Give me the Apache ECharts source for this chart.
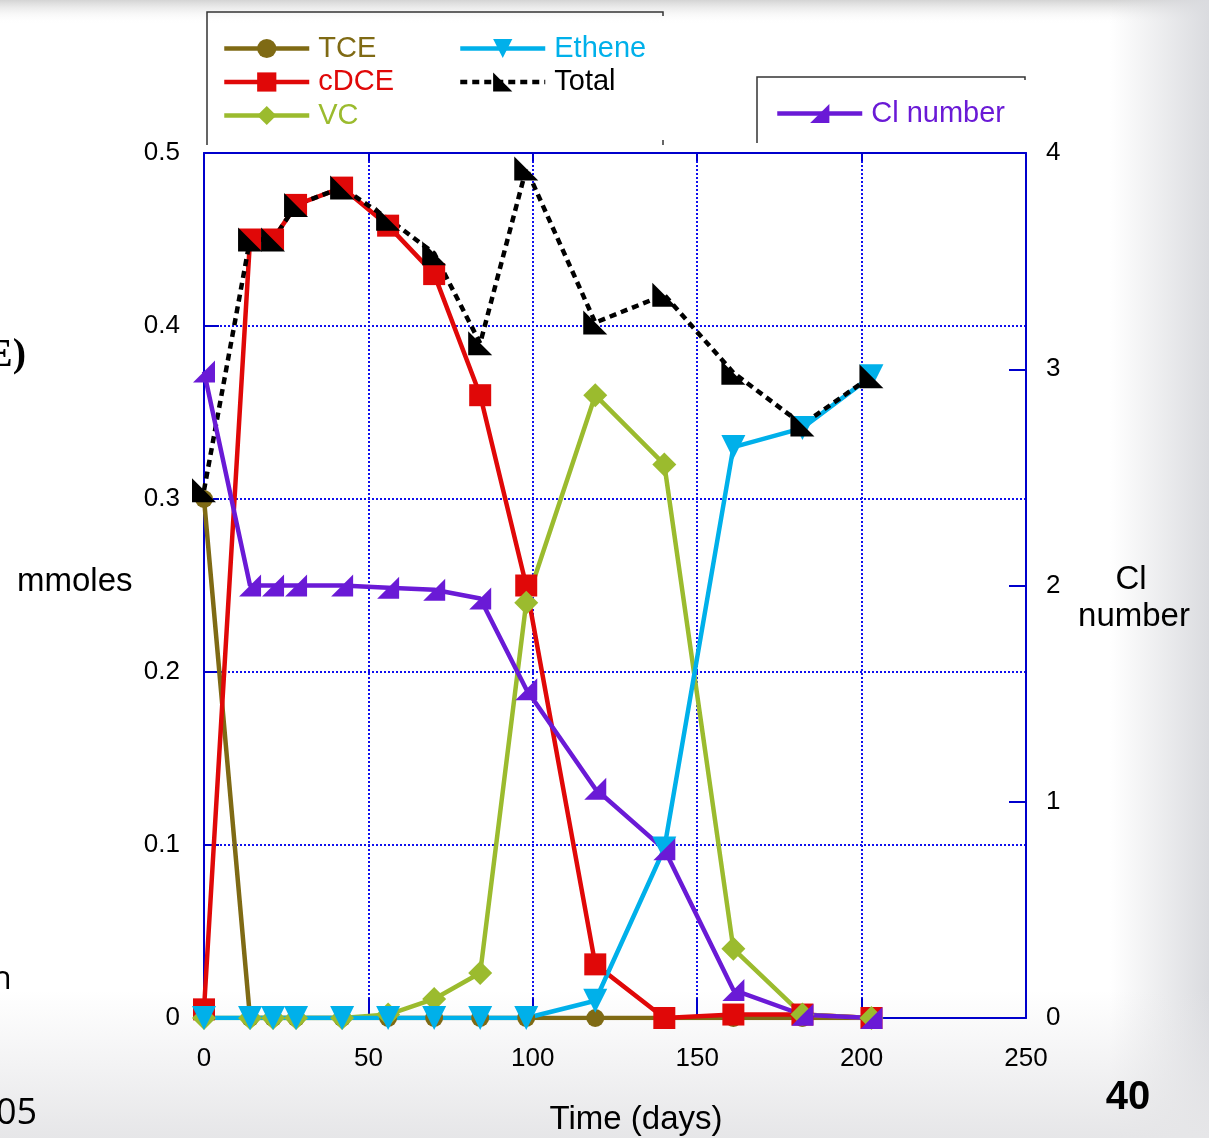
<!DOCTYPE html>
<html><head><meta charset="utf-8">
<script src="https://cdn.jsdelivr.net/npm/echarts@6/dist/echarts.min.js"></script>
<style>html,body{margin:0;padding:0;background:#fff}#c{width:1209px;height:1138px}</style>
</head><body><div id="c"></div>
<script>
const days = [0,14,21,28,42,56,70,84,98,119,140,161,182,203];
const tce = [0.30,0,0,0,0,0,0,0,0,0,0,0,0,0];
const cdce = [0.005,0.45,0.45,0.47,0.48,0.458,0.43,0.36,0.25,0.031,0,0.002,0.002,0];
const vc = [0,0,0,0,0,0.002,0.011,0.026,0.24,0.36,0.32,0.04,0.002,0];
const ethene = [0,0,0,0,0,0,0,0,0,0.01,0.098,0.33,0.341,0.371];
const total = [0.305,0.45,0.45,0.47,0.48,0.462,0.442,0.39,0.491,0.402,0.418,0.373,0.343,0.371];
const clNumber = [2.99,2.0,2.0,2.0,2.0,1.99,1.98,1.94,1.52,1.06,0.78,0.13,0.015,0];
const xTicks = [0,50,100,150,200,250];
const yTicks = [0,0.1,0.2,0.3,0.4,0.5];
const y2Ticks = [0,1,2,3,4];

const C = {tce:'#7f6a14', cdce:'#e00808', vc:'#9bbb2e', eth:'#00b0ea', tot:'#000000', cl:'#6a1ad6', axis:'#0000cc', grid:'#1010ee'};
const FONT = '"Liberation Sans", Arial, sans-serif';
const pair = arr => days.map((d,i)=>[d,arr[i]]);

const chart = echarts.init(document.getElementById('c'), null, {renderer:'canvas'});
const axisLbl = {color:'#000', fontSize:26, fontFamily:FONT};
const lineStyleAxis = {color:C.axis, width:2};

function ser(name, data, color, symbol, size, extra) {
  return Object.assign({
    name, type:'line', data:pair(data), symbol, symbolSize:size,
    lineStyle:{color, width:4.5}, itemStyle:{color}, z:2, animation:false
  }, extra||{});
}
const legendCommon = {orient:'vertical', padding:0, itemWidth:85, itemHeight:24, itemGap:4.5,
  lineStyle:{width:4.5}, textStyle:{fontSize:29, fontFamily:FONT, padding:[0,0,0,4]}};

chart.setOption({
  backgroundColor:'#ffffff',
  animation:false,
  grid:{left:204, right:183, top:153, bottom:120},
  xAxis:[{
    type:'value', min:0, max:250, interval:50, position:'bottom',
    axisLine:{onZero:false, lineStyle:lineStyleAxis}, axisTick:{inside:true, length:20, lineStyle:lineStyleAxis},
    axisLabel:Object.assign({margin:28}, axisLbl),
    splitLine:{show:true, lineStyle:{color:C.grid, type:'dotted', width:2}}
  },{
    type:'value', min:0, max:250, interval:50, position:'top',
    axisLine:{onZero:false, lineStyle:lineStyleAxis}, axisTick:{inside:true, length:8, lineStyle:lineStyleAxis},
    axisLabel:{show:false}, splitLine:{show:false}
  }],
  yAxis:[{
    type:'value', min:0, max:0.5, interval:0.1, position:'left',
    axisLine:{show:true, onZero:false, lineStyle:lineStyleAxis}, axisTick:{show:true, inside:true, length:15, lineStyle:lineStyleAxis},
    axisLabel:Object.assign({margin:24, formatter:v=>v===0?'0':v.toFixed(1)}, axisLbl),
    splitLine:{show:true, lineStyle:{color:C.grid, type:'dotted', width:2}}
  },{
    type:'value', min:0, max:4, interval:1, position:'right',
    axisLine:{show:true, onZero:false, lineStyle:lineStyleAxis}, axisTick:{show:true, inside:true, length:17, lineStyle:lineStyleAxis},
    axisLabel:Object.assign({margin:20}, axisLbl),
    splitLine:{show:false}
  }],
  legend:[Object.assign({}, legendCommon, {
    left:222, top:34,
    data:[{name:'TCE', textStyle:{color:C.tce}},{name:'cDCE', textStyle:{color:C.cdce}},{name:'VC', textStyle:{color:C.vc}}]
  }), Object.assign({}, legendCommon, {
    left:458, top:34,
    data:[{name:'Ethene', textStyle:{color:C.eth}},{name:'Total', textStyle:{color:'#000'}}]
  }), Object.assign({}, legendCommon, {
    left:775, top:99,
    data:[{name:'Cl number', textStyle:{color:C.cl}}]
  })],
  graphic:[
    {type:'rect', z:-10, silent:true, shape:{x:0,y:0,width:1209,height:24},
     style:{fill:new echarts.graphic.LinearGradient(0,0,0,1,[{offset:0,color:'#d4d4d4'},{offset:1,color:'rgba(255,255,255,0)'}])}},
    {type:'rect', z:-10, silent:true, shape:{x:1110,y:0,width:99,height:1138},
     style:{fill:new echarts.graphic.LinearGradient(0,0,1,0,[{offset:0,color:'rgba(220,221,224,0)'},{offset:1,color:'rgba(218,219,223,1)'}])}},
    {type:'rect', z:-10, silent:true, shape:{x:0,y:990,width:1209,height:148},
     style:{fill:new echarts.graphic.LinearGradient(0,0,0,1,[{offset:0,color:'rgba(232,232,234,0)'},{offset:1,color:'rgba(230,230,232,1)'}])}},
    {type:'polyline', silent:true, shape:{points:[[207,145],[207,12],[663,12],[663,16]]}, style:{stroke:'#333', lineWidth:1.5, fill:null}},
    {type:'line', silent:true, shape:{x1:663,y1:140,x2:663,y2:145}, style:{stroke:'#333', lineWidth:1.5}},
    {type:'polyline', silent:true, shape:{points:[[757,143],[757,77],[1025,77],[1025,80]]}, style:{stroke:'#333', lineWidth:1.5, fill:null}},
    {type:'text', left:17, top:565, style:{text:'mmoles', fontSize:33, fontFamily:FONT, fill:'#000'}},
    {type:'text', x:1131, y:580, style:{text:'Cl', fontSize:33, fontFamily:FONT, fill:'#000', align:'center', verticalAlign:'middle'}},
    {type:'text', x:1134, y:617, style:{text:'number', fontSize:33, fontFamily:FONT, fill:'#000', align:'center', verticalAlign:'middle'}},
    {type:'text', x:636, y:1120, style:{text:'Time (days)', fontSize:33, fontFamily:FONT, fill:'#000', align:'center', verticalAlign:'middle'}},
    {type:'text', x:-14, y:356, style:{text:'E)', fontSize:40, fontWeight:'bold', fontFamily:'"Liberation Serif", serif', fill:'#000', verticalAlign:'middle'}},
    {type:'text', x:-8, y:980, style:{text:'n', fontSize:32, fontFamily:'"Open Sans", sans-serif', fill:'#000', verticalAlign:'middle'}},
    {type:'text', x:-4, y:1114, style:{text:'05', fontSize:36, fontFamily:'"Open Sans", sans-serif', fill:'#000', verticalAlign:'middle'}},
    {type:'text', x:1128, y:1098, style:{text:'40', fontSize:40, fontWeight:'bold', fontFamily:FONT, fill:'#000', align:'center', verticalAlign:'middle'}}
  ],
  series:[
    ser('TCE', tce, C.tce, 'circle', 18),
    ser('cDCE', cdce, C.cdce, 'rect', 22),
    ser('VC', vc, C.vc, 'diamond', 24),
    ser('Ethene', ethene, C.eth, 'path://M0,0 L10,0 L5,8 Z', 24),
    ser('Total', total, C.tot, 'path://M0,0 L0,10 L10,10 Z', 24, {lineStyle:{color:'#000', width:4.5, type:[7,5]}}),
    ser('Cl number', clNumber, C.cl, 'path://M10,0 L10,10 L0,10 Z', 22, {yAxisIndex:1})
  ]
});
</script></body></html>
